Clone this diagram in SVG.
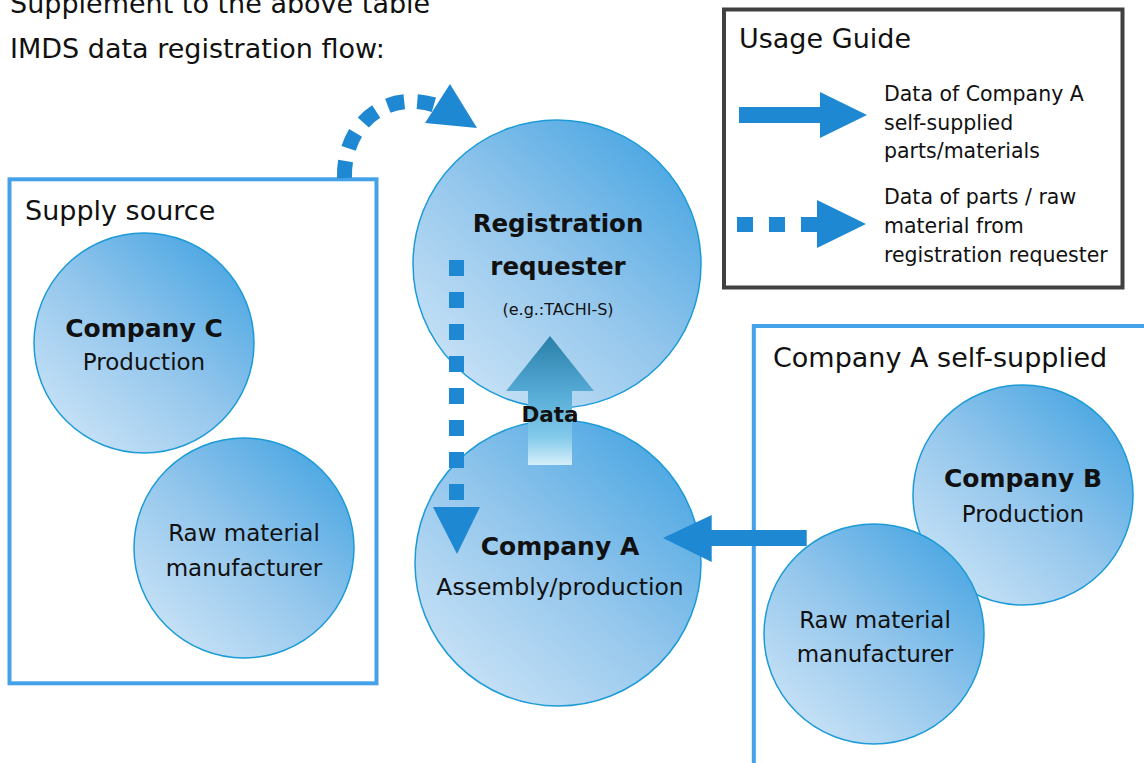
<svg xmlns="http://www.w3.org/2000/svg" width="1144" height="763" viewBox="0 0 1144 763">
<defs>
<linearGradient id="cg" x1="0.85" y1="0.1" x2="0.15" y2="0.9">
<stop offset="0" stop-color="#4ea8e3"/>
<stop offset="0.5" stop-color="#93c6ec"/>
<stop offset="1" stop-color="#c6e1f6"/>
</linearGradient>
<linearGradient id="dg" gradientUnits="userSpaceOnUse" x1="0" y1="336" x2="0" y2="465">
<stop offset="0" stop-color="#2a7fa9"/>
<stop offset="0.45" stop-color="#56acd6"/>
<stop offset="0.78" stop-color="#82c9ea"/>
<stop offset="1" stop-color="#d6eff9"/>
</linearGradient>
<style>
text{font-family:"DejaVu Sans","Liberation Sans",sans-serif;fill:#111}
.h{font-size:27px}
.b{font-size:25px;font-weight:bold;text-anchor:middle}
.r{font-size:23px;text-anchor:middle}
.l{font-size:20.5px}
.c{fill:url(#cg);stroke:#1c9bd7;stroke-width:1.5}
.box{fill:none;stroke:#45a2e8;stroke-width:4}
.blue{fill:#1f88d2}
.dash{fill:none;stroke:#1f88d2;stroke-width:15}
</style>
</defs>
<text class="h" x="10" y="13">Supplement to the above table</text>
<text class="h" x="10" y="58">IMDS data registration flow:</text>

<g id="legend">
<rect x="724" y="9.5" width="398.5" height="278" fill="#fff" stroke="#404040" stroke-width="4"/>
<text class="h" x="739" y="48">Usage Guide</text>
<polygon class="blue" points="739,107 820,107 820,92 867,115 820,138 820,123 739,123"/>
<text class="l" x="884" y="101">Data of Company A</text>
<text class="l" x="884" y="130">self-supplied</text>
<text class="l" x="884" y="158">parts/materials</text>
<rect class="blue" x="737" y="217" width="16" height="15"/>
<rect class="blue" x="769" y="217" width="16" height="15"/>
<rect class="blue" x="801" y="217" width="17" height="15"/>
<polygon class="blue" points="817,200 866,224 817,248"/>
<text class="l" x="884" y="204">Data of parts / raw</text>
<text class="l" x="884" y="233">material from</text>
<text class="l" x="884" y="262">registration requester</text>
</g>

<g id="supply-source">
<rect class="box" x="9.5" y="179.3" width="367" height="504"/>
<text class="h" x="25" y="220">Supply source</text>
</g>
<g id="company-c">
<circle class="c" cx="144" cy="343" r="110"/>
<text class="b" x="144" y="337">Company C</text>
<text class="r" x="144" y="370">Production</text>
</g>
<g id="raw-left">
<circle class="c" cx="244" cy="548" r="110"/>
<text class="r" x="244" y="541">Raw material</text>
<text class="r" x="244" y="576">manufacturer</text>
</g>

<g id="self-supplied">
<rect class="box" x="753.8" y="326" width="420" height="460"/>
<text class="h" x="773" y="367">Company A self-supplied</text>
</g>
<g id="company-b">
<circle class="c" cx="1023" cy="495" r="110"/>
<text class="b" x="1023" y="487">Company B</text>
<text class="r" x="1023" y="522">Production</text>
</g>
<g id="raw-right">
<circle class="c" cx="874" cy="634" r="110"/>
<text class="r" x="875" y="628">Raw material</text>
<text class="r" x="875" y="662">manufacturer</text>
</g>

<g id="registration-requester">
<circle class="c" cx="557" cy="264" r="144"/>
<text class="b" x="558" y="232" style="font-size:24.5px">Registration</text>
<text class="b" x="558" y="275" style="font-size:24.5px">requester</text>
<text x="558" y="315" style="font-size:16px;text-anchor:middle">(e.g.:TACHI-S)</text>
</g>
<g id="company-a">
<circle class="c" cx="558" cy="563" r="143"/>
<text class="b" x="560" y="555">Company A</text>
<text class="r" x="560" y="595" style="font-size:23.5px">Assembly/production</text>
</g>

<g id="connectors">
<path class="dash" d="M344.5,178 C343,125 385,88 438,106" stroke-dasharray="17 13"/>
<polygon class="blue" points="425,123 450,84 477,128"/>
<line class="dash" x1="456.5" y1="260" x2="456.5" y2="500" stroke-dasharray="16 16"/>
<polygon class="blue" points="433,507 480,507 457,554"/>
<polygon fill="url(#dg)" points="550,336 594,391 572,391 572,465 528,465 528,391 506,391"/>
<text x="550" y="422" style="font-size:21.5px;font-weight:bold;text-anchor:middle">Data</text>
<polygon class="blue" points="806.7,530 711.7,530 711.7,515 663,538 711.7,562 711.7,546 806.7,546"/>
</g>
</svg>
